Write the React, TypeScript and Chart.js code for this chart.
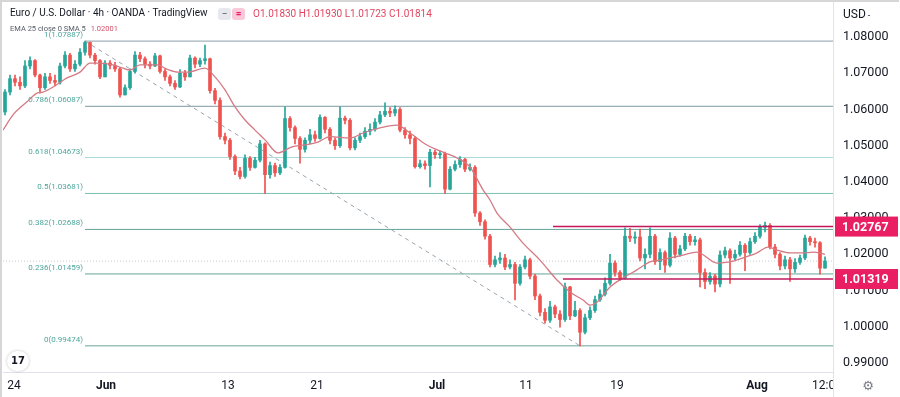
import React, { useEffect, useRef } from 'react';
import { Chart, registerables } from 'chart.js';

Chart.register(...registerables);

// ---- data (4h-ish candles) ----
const firstOpen = 1.0593;
const closes = [
  1.0648, 1.0685, 1.0675, 1.0665, 1.0720, 1.0735, 1.0695, 1.0660, 1.0690, 1.0680,
  1.0675, 1.0720, 1.0750, 1.0712, 1.0725, 1.0758, 1.0785, 1.0750, 1.0735, 1.0690,
  1.0728, 1.0722, 1.0712, 1.0640, 1.0660, 1.0705, 1.0750, 1.0740, 1.0725, 1.0720,
  1.0748, 1.0705, 1.0690, 1.0672, 1.0662, 1.0700, 1.0690, 1.0742, 1.0725, 1.0735,
  1.0740, 1.0652, 1.0625, 1.0525, 1.0515, 1.0470, 1.0430, 1.0415, 1.0465, 1.0440,
  1.0460, 1.0505, 1.0420, 1.0445, 1.0425, 1.0440, 1.0575, 1.0550, 1.0520, 1.0490,
  1.0515, 1.0530, 1.0520, 1.0578, 1.0545, 1.0515, 1.0500, 1.0576, 1.0570, 1.0494,
  1.0515, 1.0525, 1.0540, 1.0545, 1.0565, 1.0585, 1.0595, 1.0590, 1.0600, 1.0543,
  1.0530, 1.0520, 1.0442, 1.0450, 1.0445, 1.0482, 1.0475, 1.0478, 1.0380, 1.0435,
  1.0448, 1.0462, 1.0435, 1.0440, 1.0314, 1.0290, 1.0250, 1.0172, 1.0185, 1.0190,
  1.0165, 1.0172, 1.0120, 1.0165, 1.0185, 1.0140, 1.0085, 1.0040, 1.0018, 1.0055,
  1.0035, 1.0020, 1.0110, 1.0030, 1.0045, 0.9985, 1.0025, 1.0045, 1.0075, 1.0090,
  1.0120, 1.0176, 1.0150, 1.0135, 1.0250, 1.0245, 1.0248, 1.0190, 1.0200, 1.0250,
  1.0180, 1.0205, 1.0170, 1.0245, 1.0200, 1.0215, 1.0250, 1.0235, 1.0240, 1.0150,
  1.0125, 1.0140, 1.0118, 1.0198, 1.0210, 1.0190, 1.0200, 1.0225, 1.0205, 1.0235,
  1.0250, 1.0275, 1.0280, 1.0220, 1.0200, 1.0168, 1.0185, 1.0160, 1.0178, 1.0190,
  1.0245, 1.0235, 1.0232, 1.0162, 1.01814,
];
const highs = [
  1.0655, 1.0695, 1.0695, 1.0690, 1.0735, 1.0745, 1.0738, 1.0698, 1.0700, 1.0700,
  1.0695, 1.0728, 1.0760, 1.0755, 1.0735, 1.0768, 1.07887, 1.0786, 1.0755, 1.0738,
  1.0735, 1.0735, 1.0730, 1.0716, 1.0668, 1.0712, 1.0760, 1.0758, 1.0745, 1.0732,
  1.0755, 1.0750, 1.0712, 1.0695, 1.0680, 1.0710, 1.0708, 1.0750, 1.0745, 1.0742,
  1.0778, 1.0742, 1.0658, 1.0632, 1.0535, 1.0520, 1.0475, 1.0440, 1.0475, 1.0470,
  1.0468, 1.0515, 1.0508, 1.0455, 1.0452, 1.0448, 1.0607, 1.0580, 1.0555, 1.0525,
  1.0522, 1.0545, 1.0540, 1.0585, 1.0580, 1.0550, 1.0522, 1.0607, 1.0582, 1.0575,
  1.0522, 1.0535, 1.0550, 1.0560, 1.0575, 1.0595, 1.0618, 1.0605, 1.0610, 1.0605,
  1.0550, 1.0540, 1.0525, 1.0460, 1.0458, 1.0490, 1.0488, 1.0485, 1.0482, 1.0442,
  1.0458, 1.0470, 1.0465, 1.0450, 1.0445, 1.0318, 1.0295, 1.0255, 1.0195, 1.0205,
  1.0200, 1.0185, 1.0178, 1.0172, 1.0195, 1.0190, 1.0145, 1.0090, 1.0050, 1.0070,
  1.0060, 1.0045, 1.0121, 1.0112, 1.0070, 1.0050, 1.0035, 1.0055, 1.0085, 1.0102,
  1.0135, 1.0200, 1.0182, 1.0155, 1.0273, 1.0272, 1.0262, 1.0270, 1.0215, 1.0273,
  1.0255, 1.0215, 1.0210, 1.0260, 1.0250, 1.0225, 1.0258, 1.0255, 1.0250, 1.0245,
  1.0160, 1.0150, 1.0145, 1.0210, 1.0220, 1.0215, 1.0212, 1.0235, 1.0230, 1.0245,
  1.0260, 1.0282, 1.0289, 1.0285, 1.0228, 1.0205, 1.0195, 1.0192, 1.0188, 1.0198,
  1.0253, 1.0250, 1.0245, 1.0235, 1.0193,
];
const lows = [
  1.0585, 1.0640, 1.0665, 1.0655, 1.0660, 1.0712, 1.0690, 1.0645, 1.0655, 1.0672,
  1.0665, 1.0670, 1.0715, 1.0705, 1.0705, 1.0720, 1.0750, 1.0742, 1.0725, 1.0685,
  1.0690, 1.0712, 1.0705, 1.0634, 1.0645, 1.0655, 1.0700, 1.0732, 1.0715, 1.0712,
  1.0718, 1.0700, 1.0680, 1.0665, 1.0655, 1.0660, 1.0680, 1.0690, 1.0715, 1.0718,
  1.0725, 1.0645, 1.0615, 1.0518, 1.0505, 1.0462, 1.0420, 1.0408, 1.0410, 1.0432,
  1.0438, 1.0455, 1.0368, 1.0410, 1.0415, 1.0420, 1.0438, 1.0540, 1.0505, 1.0452,
  1.0482, 1.0505, 1.0512, 1.0518, 1.0535, 1.0505, 1.0490, 1.0495, 1.0560, 1.0488,
  1.0488, 1.0508, 1.0520, 1.0530, 1.0540, 1.0560, 1.0580, 1.0580, 1.0582, 1.0538,
  1.0520, 1.0505, 1.0438, 1.0438, 1.0435, 1.0386, 1.0465, 1.0465, 1.0368, 1.0378,
  1.0430, 1.0440, 1.0428, 1.0430, 1.0305, 1.0280, 1.0242, 1.0165, 1.0165, 1.0175,
  1.0158, 1.0160, 1.0074, 1.0115, 1.0160, 1.0132, 1.0075, 1.0030, 1.0010, 1.0012,
  1.0025, 0.9999, 1.0015, 1.0020, 1.0028, 0.99474, 0.9980, 1.0020, 1.0040, 1.0070,
  1.0085, 1.0115, 1.0140, 1.0128, 1.0132, 1.0235, 1.0230, 1.0182, 1.0160, 1.0190,
  1.0172, 1.0158, 1.0150, 1.0165, 1.0190, 1.0195, 1.0210, 1.0225, 1.0225, 1.0110,
  1.0105, 1.0118, 1.0096, 1.0110, 1.0190, 1.0120, 1.0185, 1.0195, 1.0155, 1.0200,
  1.0230, 1.0245, 1.0262, 1.0215, 1.0190, 1.0157, 1.0160, 1.0125, 1.0150, 1.0172,
  1.0185, 1.0225, 1.0220, 1.0145, 1.01723,
];

// EMA 25 (smoothed) at candle positions
const emaIdx = [
  -0.4, 1.6, 4.4, 6.4, 7.6, 9.6, 12.4, 15, 17, 19, 21.6, 23.6, 25, 27, 30.4, 32.6,
  34.6, 36.6, 40, 42, 44, 46, 48, 50, 52, 54.6, 57.4, 60, 62.6, 65, 69, 71.6, 75,
  78.4, 81, 84.4, 87.6, 90.4, 93, 95.6, 97, 98.4, 101, 103.6, 107, 110.4, 113, 115.6,
  117, 118.4, 121, 123.6, 126.4, 129, 131, 133, 135.6, 138.4, 142.4, 145, 147.6,
  150.4, 152.6, 154.4, 157, 159.6, 161.6, 164,
];
const emaVal = [
  1.0543, 1.0585, 1.0621, 1.0645, 1.0648, 1.0662, 1.0687, 1.0703, 1.0728, 1.0728,
  1.0723, 1.0714, 1.0709, 1.0723, 1.0723, 1.0710, 1.0703, 1.0703, 1.0714, 1.0690,
  1.0654, 1.0607, 1.0571, 1.0543, 1.0516, 1.0480, 1.0497, 1.0502, 1.0510, 1.0525,
  1.0521, 1.0535, 1.0549, 1.0557, 1.0535, 1.0502, 1.0482, 1.0466, 1.0441, 1.0378,
  1.0350, 1.0314, 1.0275, 1.0231, 1.0184, 1.0129, 1.0096, 1.0074, 1.0060, 1.0068,
  1.0110, 1.0135, 1.0157, 1.0179, 1.0184, 1.0190, 1.0198, 1.0206, 1.0176, 1.0179,
  1.0190, 1.0204, 1.0220, 1.0212, 1.0204, 1.0204, 1.0206, 1.0200,
];

const fibRatios = ['1', '0.786', '0.618', '0.5', '0.382', '0.236', '0'];
const fibLevels = [1.07887, 1.06087, 1.04673, 1.03681, 1.02688, 1.01459, 0.99474];
const fibColors = ['#8a9fac', '#7d9aa1', '#a9dadc', '#78c1b0', '#62a397', '#67a29a', '#6aa39c'];
const fibStart = 16;
const fibEnd = 115;

const rangeLevels = [1.02767, 1.01319];
const rangeStarts = [109.6, 111.6];
const lastPrice = 1.01814;

const yTicks = [0.99, 1.0, 1.01, 1.02, 1.03, 1.04, 1.05, 1.06, 1.07, 1.08];
const xTickIdx = [1.8, 20.2, 44.6, 62.4, 86.4, 104.2, 122.4, 150.4, 164.4];
const xTickLabels = ['24', 'Jun', '13', '21', 'Jul', '11', '19', 'Aug', '12:00'];
const monthLabels = ['Jun', 'Jul', 'Aug'];

const X_MIN = -0.4;
const X_MAX = 165.6;
const Y_MIN = 0.98752;
const Y_MAX = 1.08939;

const UP = '#26a69a';
const DOWN = '#ef5350';
const FONT = 'Roboto, "Liberation Sans", sans-serif';

export default function App() {
  const ref = useRef<HTMLCanvasElement>(null);

  useEffect(() => {
    document.body.style.margin = '0';
    const opens = closes.map((_, i) => (i === 0 ? firstOpen : closes[i - 1]));
    const colors = closes.map((c, i) => (c >= opens[i] ? UP : DOWN));

    const hLine = (y: number, from: number) => [
      { x: from, y },
      { x: X_MAX, y },
    ];

    const datasets: any[] = [];
    fibLevels.forEach((lv, k) => {
      datasets.push({
        type: 'line',
        data: hLine(lv, fibStart),
        borderColor: fibColors[k],
        borderWidth: 1,
        pointRadius: 0,
        order: 10,
      });
    });
    datasets.push({
      type: 'line',
      data: hLine(lastPrice, X_MIN),
      borderColor: '#c5cad3',
      borderWidth: 1,
      borderDash: [1, 2],
      pointRadius: 0,
      order: 9,
    });
    datasets.push({
      type: 'line',
      data: [
        { x: fibStart, y: fibLevels[0] },
        { x: fibEnd, y: fibLevels[6] },
      ],
      borderColor: '#9aa4ae',
      borderWidth: 1,
      borderDash: [4, 4],
      pointRadius: 0,
      order: 8,
    });
    datasets.push({
      type: 'bar',
      data: closes.map((c, i) => ({
        x: i,
        y: [Math.min(lows[i], opens[i], c), Math.max(highs[i], opens[i], c)],
      })),
      backgroundColor: colors,
      barThickness: 1,
      grouped: false,
      order: 4,
    });
    datasets.push({
      type: 'bar',
      data: closes.map((c, i) => ({ x: i, y: [opens[i], c] })),
      backgroundColor: colors,
      barThickness: 3,
      minBarLength: 1,
      grouped: false,
      order: 3,
    });
    datasets.push({
      type: 'line',
      data: emaIdx.map((x, k) => ({ x, y: emaVal[k] })),
      borderColor: '#d47a84',
      borderWidth: 1.3,
      pointRadius: 0,
      cubicInterpolationMode: 'monotone',
      order: 2,
    });
    rangeLevels.forEach((lv, k) => {
      datasets.push({
        type: 'line',
        data: hLine(lv, rangeStarts[k]),
        borderColor: '#c2185b',
        borderWidth: 1.5,
        pointRadius: 0,
        order: 1,
      });
    });

    const overlay = {
      id: 'overlay',
      afterDatasetsDraw(chart: any) {
        const { ctx } = chart;
        const x = chart.scales.x;
        const y = chart.scales.y;
        ctx.save();
        ctx.font = `8px ${FONT}`;
        ctx.textAlign = 'right';
        ctx.textBaseline = 'middle';
        ctx.fillStyle = '#4ea69b';
        fibLevels.forEach((lv, k) => {
          ctx.fillText(
            `${fibRatios[k]}(${lv.toFixed(5)})`,
            x.getPixelForValue(fibStart) - 2,
            y.getPixelForValue(lv) - 6
          );
        });
        ctx.restore();
      },
      afterDraw(chart: any) {
        const { ctx, chartArea } = chart;
        const y = chart.scales.y;
        ctx.save();
        // clip time labels overflowing into the price axis
        ctx.fillStyle = '#ffffff';
        ctx.fillRect(chartArea.right + 1, chartArea.bottom + 1, 900, 40);
        // separators and frame
        ctx.strokeStyle = '#e0e3eb';
        ctx.lineWidth = 1;
        ctx.beginPath();
        ctx.moveTo(chartArea.right + 0.5, 0);
        ctx.lineTo(chartArea.right + 0.5, 397);
        ctx.stroke();
        ctx.strokeStyle = '#d6d6d6';
        ctx.lineWidth = 2;
        ctx.beginPath();
        ctx.moveTo(1, 397);
        ctx.lineTo(1, 1);
        ctx.lineTo(899, 1);
        ctx.stroke();
        // price labels
        rangeLevels.forEach((lv) => {
          const py = y.getPixelForValue(lv);
          ctx.fillStyle = '#e91e63';
          ctx.fillRect(chartArea.right + 2, py - 10, 63, 20);
          ctx.fillStyle = '#ffffff';
          ctx.font = `bold 12.5px ${FONT}`;
          ctx.textAlign = 'left';
          ctx.textBaseline = 'middle';
          ctx.fillText(lv.toFixed(5), chartArea.right + 9, py + 1);
        });
        // settings gear
        ctx.fillStyle = '#787b86';
        ctx.font = '13px "DejaVu Sans"';
        ctx.textAlign = 'center';
        ctx.textBaseline = 'middle';
        ctx.fillText('\u2699', 868, 387);
        ctx.restore();
      },
    };

    const chart = new Chart(ref.current as HTMLCanvasElement, {
      type: 'bar',
      data: { datasets },
      options: {
        animation: false,
        responsive: false,
        maintainAspectRatio: false,
        layout: { padding: { top: 3, left: 3, right: 0, bottom: 0 } },
        plugins: { legend: { display: false }, tooltip: { enabled: false } },
        scales: {
          x: {
            type: 'linear',
            min: X_MIN,
            max: X_MAX,
            offset: false,
            grid: { display: false, drawTicks: false },
            border: { display: true, color: '#e0e3eb' },
            afterBuildTicks: (s: any) => {
              s.ticks = xTickIdx.map((v) => ({ value: v }));
            },
            afterFit: (s: any) => {
              s.height = 25;
              s.paddingLeft = 0;
              s.paddingRight = 0;
            },
            ticks: {
              autoSkip: false,
              maxRotation: 0,
              padding: 7,
              color: '#131722',
              font: (c: any) => ({
                family: FONT,
                size: 12,
                weight: monthLabels.includes(xTickLabels[c.index]) ? 'bold' : 'normal',
              }),
              callback: (v: any) => {
                const k = xTickIdx.indexOf(v);
                return k >= 0 ? xTickLabels[k] : '';
              },
            },
          },
          y: {
            type: 'linear',
            position: 'right',
            min: Y_MIN,
            max: Y_MAX,
            grid: { display: false, drawTicks: false },
            border: { display: false },
            afterBuildTicks: (s: any) => {
              s.ticks = yTicks.map((v) => ({ value: v }));
            },
            afterFit: (s: any) => {
              s.width = 67;
              s.paddingTop = 0;
              s.paddingBottom = 0;
            },
            ticks: {
              padding: 10,
              color: '#131722',
              font: { family: FONT, size: 12.5 },
              callback: (v: any) => Number(v).toFixed(5),
            },
          },
        },
      },
      plugins: [overlay],
    } as any);
    return () => chart.destroy();
  }, []);

  const abs = (style: React.CSSProperties): React.CSSProperties => ({
    position: 'absolute',
    whiteSpace: 'nowrap',
    pointerEvents: 'none',
    fontFamily: FONT,
    ...style,
  });

  return (
    <div style={{ position: 'relative', width: 900, height: 397, background: '#fff' }}>
      <canvas ref={ref} width={900} height={397} style={{ display: 'block' }} />
      <div style={abs({ left: 10, top: 7, fontSize: 10, color: '#131722' })}>
        Euro / U.S. Dollar · 4h · OANDA · TradingView
      </div>
      <div
        style={abs({
          left: 218, top: 8, width: 13, height: 12, borderRadius: 3, background: '#e6e8ee',
          fontSize: 10, lineHeight: '12px', textAlign: 'center', color: '#50535e',
        })}
      >
        −
      </div>
      <div
        style={abs({
          left: 232, top: 8, width: 13, height: 12, borderRadius: 3, background: '#f9c9d9',
          fontSize: 10, lineHeight: '12px', textAlign: 'center', color: '#e91e63', fontWeight: 'bold',
        })}
      >
        =
      </div>
      <div style={abs({ left: 253, top: 8, fontSize: 10, color: '#e0455f' })}>
        O1.01830 H1.01930 L1.01723 C1.01814
      </div>
      <div style={abs({ left: 10, top: 24, fontSize: 7.5, color: '#555a66' })}>
        EMA 25 close 0 SMA 5 <span style={{ color: '#d2516a', marginLeft: 3 }}>1.02001</span>
      </div>
      <div style={abs({ left: 843, top: 7, fontSize: 12, color: '#131722' })}>
        USD<span style={{ fontSize: 9, marginLeft: 2 }}>-</span>
      </div>
      <div
        style={abs({
          left: 7, top: 351, width: 22, height: 20, borderRadius: 11, background: '#fff',
          boxShadow: '0 0 3px rgba(0,0,0,0.25)', fontSize: 10, fontWeight: 'bold',
          lineHeight: '20px', textAlign: 'center', color: '#131722', fontFamily: '"DejaVu Sans"',
        })}
      >
        17
      </div>
    </div>
  );
}
